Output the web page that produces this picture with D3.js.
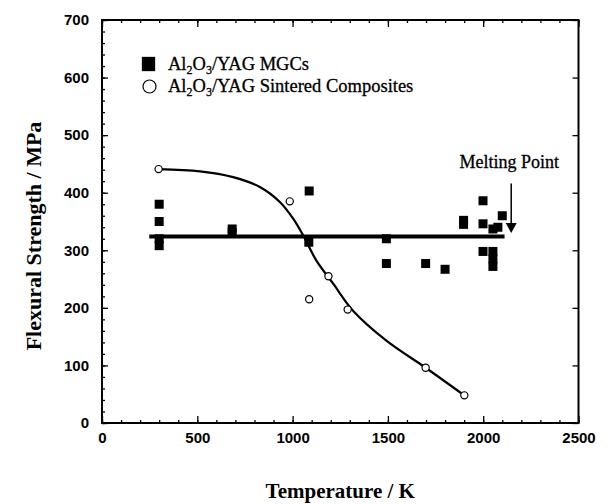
<!DOCTYPE html>
<html>
<head>
<meta charset="utf-8">
<script src="https://cdn.jsdelivr.net/npm/d3@7"></script>
<style>
  body { margin: 0; background: #fff; }
  svg { display: block; }
</style>
</head>
<body>
<svg id="chart"></svg>
<script>
// Al2O3/YAG MGCs (filled squares)
const mgcT = [300, 300, 300, 300, 683, 683, 1087, 1085, 1492, 1492, 1698, 1800, 1897, 1897,
              1999, 1999, 1999, 2051, 2077, 2100, 2051, 2051, 2051];
const mgcS = [380, 350, 320, 308, 337, 331, 403, 314, 320, 277, 277, 267, 352, 345,
              386, 346, 298, 337, 340, 360, 298, 285, 272];

// Al2O3/YAG sintered composites (open circles)
const sinT = [297, 985, 1087, 1188, 1289, 1698, 1901];
const sinS = [441, 385, 215, 255, 197, 96, 48];

// fitted curve through the sintered data
const fitT = [297, 514, 688, 828, 933, 1003, 1055, 1125, 1213, 1317, 1492, 1698, 1901];
const fitS = [441, 437, 427, 410, 384, 355, 326, 282, 242, 195, 143, 96, 48];

// average line for MGCs
const avgT = [248, 2112];
const avgS = [324, 324];

// melting point arrow
const meltT = 2147;
const meltFrom = 416, meltTo = 330;

const xTicks = [0, 500, 1000, 1500, 2000, 2500];
const yTicks = [0, 100, 200, 300, 400, 500, 600, 700];

const W = 613, H = 504;
const svg = d3.select("#chart").attr("width", W).attr("height", H);

const x = d3.scaleLinear().domain([0, 2500]).range([102, 578.5]);
const y = d3.scaleLinear().domain([0, 700]).range([423, 20]);

const tickFont = "'Liberation Sans Narrow', 'Arial Narrow', sans-serif";
const serif = "'Liberation Serif', 'Times New Roman', serif";

// minor ticks
svg.append("g").attr("transform", "translate(0,423)")
    .call(d3.axisBottom(x).tickValues(d3.range(0, 2501, 100)).tickSize(-3).tickFormat(""))
    .call(g => g.select(".domain").remove());
svg.append("g").attr("transform", "translate(0,20)")
    .call(d3.axisTop(x).tickValues(d3.range(0, 2501, 100)).tickSize(-3).tickFormat(""))
    .call(g => g.select(".domain").remove());
svg.append("g").attr("transform", "translate(102,0)")
    .call(d3.axisLeft(y).tickValues(d3.range(0, 701, 20)).tickSize(-3).tickFormat(""))
    .call(g => g.select(".domain").remove());

// major ticks + labels
svg.append("g").attr("transform", "translate(0,423)")
    .call(d3.axisBottom(x).tickValues(xTicks).tickSize(-7).tickPadding(9).tickFormat(d3.format("d")))
    .call(g => g.select(".domain").remove())
    .call(g => g.selectAll("text").attr("font-family", tickFont).attr("font-weight", "bold")
        .attr("font-size", 15).attr("fill", "#000"));
svg.append("g").attr("transform", "translate(0,20)")
    .call(d3.axisTop(x).tickValues(xTicks).tickSize(-7).tickFormat(""))
    .call(g => g.select(".domain").remove());
svg.append("g").attr("transform", "translate(102,0)")
    .call(d3.axisLeft(y).tickValues(yTicks).tickSize(-6).tickPadding(13).tickFormat(d3.format("d")))
    .call(g => g.select(".domain").remove())
    .call(g => g.selectAll("text").attr("font-family", tickFont).attr("font-weight", "bold")
        .attr("font-size", 15).attr("fill", "#000"));
svg.append("g").attr("transform", "translate(578.5,0)")
    .call(d3.axisRight(y).tickValues(yTicks).tickSize(-6).tickFormat(""))
    .call(g => g.select(".domain").remove());

svg.selectAll(".tick line").attr("stroke", "#000").attr("stroke-width", 1.3);

// frame
svg.append("rect")
    .attr("x", x(0)).attr("y", y(700))
    .attr("width", x(2500) - x(0)).attr("height", y(0) - y(700))
    .attr("fill", "none").attr("stroke", "#000").attr("stroke-width", 2);

// axis titles
svg.append("text")
    .attr("x", (x(0) + x(2500)) / 2).attr("y", 498)
    .attr("text-anchor", "middle")
    .attr("font-family", serif).attr("font-weight", "bold").attr("font-size", 21)
    .text("Temperature / K");
svg.append("text")
    .attr("transform", "translate(41,236) rotate(-90)")
    .attr("text-anchor", "middle")
    .attr("font-family", serif).attr("font-weight", "bold").attr("font-size", 22)
    .text("Flexural Strength / MPa");

// average line
svg.append("path")
    .attr("d", d3.line().x(d => x(d[0])).y(d => y(d[1]))(d3.zip(avgT, avgS)))
    .attr("stroke", "#000").attr("stroke-width", 4).attr("fill", "none");

// fit curve
svg.append("path")
    .attr("d", d3.line().curve(d3.curveCatmullRom).x(d => x(d[0])).y(d => y(d[1]))(d3.zip(fitT, fitS)))
    .attr("stroke", "#000").attr("stroke-width", 2.2).attr("fill", "none");

// squares
const sq = 9;
svg.append("g").selectAll("rect")
    .data(d3.zip(mgcT, mgcS))
    .join("rect")
    .attr("x", d => x(d[0]) - sq / 2).attr("y", d => y(d[1]) - sq / 2)
    .attr("width", sq).attr("height", sq)
    .attr("fill", "#000");

// circles
svg.append("g").selectAll("circle")
    .data(d3.zip(sinT, sinS))
    .join("circle")
    .attr("cx", d => x(d[0])).attr("cy", d => y(d[1]))
    .attr("r", 3.6)
    .attr("fill", "#fff").attr("stroke", "#000").attr("stroke-width", 1.2);

// melting point
svg.append("line")
    .attr("x1", x(meltT)).attr("x2", x(meltT))
    .attr("y1", y(meltFrom)).attr("y2", y(meltTo) - 9)
    .attr("stroke", "#000").attr("stroke-width", 1.5);
svg.append("path")
    .attr("d", `M${x(meltT) - 5.5},${y(meltTo) - 10} L${x(meltT) + 5.5},${y(meltTo) - 10} L${x(meltT)},${y(meltTo)} Z`)
    .attr("fill", "#000");
svg.append("text")
    .attr("x", x(meltT) - 2).attr("y", 168)
    .attr("text-anchor", "middle")
    .attr("font-family", serif).attr("font-size", 18)
    .attr("stroke", "#000").attr("stroke-width", 0.3)
    .text("Melting Point");

// legend
const legend = svg.append("g").attr("font-family", serif).attr("font-size", 18.5)
    .attr("stroke", "#000").attr("stroke-width", 0.3);
legend.append("rect").attr("x", 142).attr("y", 57).attr("width", 13).attr("height", 14).attr("fill", "#000");
legend.append("circle").attr("cx", 149.5).attr("cy", 86.5).attr("r", 6.5)
    .attr("fill", "#fff").attr("stroke", "#000").attr("stroke-width", 1.2);

function formula(t, rest) {
    t.append("tspan").text("Al");
    t.append("tspan").attr("font-size", 12).attr("dy", 4).text("2");
    t.append("tspan").attr("dy", -4).text("O");
    t.append("tspan").attr("font-size", 12).attr("dy", 4).text("3");
    t.append("tspan").attr("dy", -4).text(rest);
}
formula(legend.append("text").attr("x", 168).attr("y", 70), "/YAG MGCs");
formula(legend.append("text").attr("x", 168).attr("y", 92), "/YAG Sintered Composites");
</script>
</body>
</html>
